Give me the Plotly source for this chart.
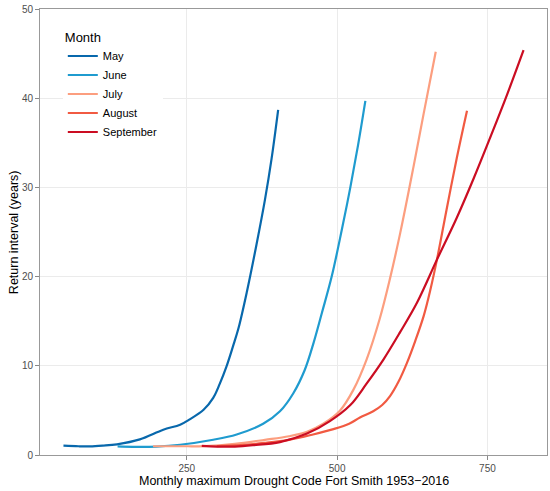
import plotly.graph_objects as go

# Values (drought code vs return interval)
months = ["May", "June", "July", "August", "September"]
colors = ["#0868ac", "#1f9bcf", "#fc9e7f", "#f15a42", "#cb0d22"]

may_dc = [45, 70, 89, 110, 134, 172, 211, 239, 255, 278, 294, 305, 316, 327, 336, 350, 366, 380, 391, 402]
may_rt = [1.04, 0.98, 0.97, 1.05, 1.2, 1.75, 2.84, 3.4, 4.0, 5.07, 6.4, 8.0, 9.9, 12.2, 14.2, 18.3, 23.6, 28.6, 33.2, 38.7]

june_dc = [135, 160, 200, 239, 294, 333, 377, 405, 427, 446, 461, 475, 491, 508, 522, 535, 547]
june_rt = [0.96, 0.92, 0.95, 1.15, 1.71, 2.3, 3.5, 4.9, 6.9, 9.5, 12.6, 16.0, 20.0, 25.3, 30.0, 34.8, 39.7]

july_dc = [194, 240, 280, 330, 380, 420, 450, 477, 505, 527, 549, 571, 588, 605, 627, 644, 664]
july_rt = [0.98, 0.98, 1.0, 1.25, 1.7, 2.1, 2.6, 3.5, 5.0, 7.3, 10.7, 15.3, 19.8, 24.9, 32.3, 38.3, 45.2]

aug_dc = [300, 340, 380, 420, 460, 494, 520, 538, 560, 575, 588, 602, 616, 630, 644, 655, 666, 682, 699, 716]
aug_rt = [1.0, 1.1, 1.35, 1.7, 2.3, 2.9, 3.5, 4.2, 4.9, 5.6, 6.6, 8.2, 10.3, 12.8, 15.6, 18.5, 21.9, 27.5, 33.3, 38.6]

sep_dc = [275, 300, 330, 360, 405, 450, 488, 522, 549, 577, 605, 633, 666, 699, 727, 754, 782, 810]
sep_rt = [1.02, 0.95, 0.95, 1.1, 1.45, 2.4, 3.8, 5.6, 8.0, 10.7, 13.8, 17.1, 21.9, 26.6, 31.0, 35.5, 40.3, 45.4]

series = [
    (may_dc, may_rt),
    (june_dc, june_rt),
    (july_dc, july_rt),
    (aug_dc, aug_rt),
    (sep_dc, sep_rt),
]

font_family = "Liberation Sans, Arial, sans-serif"

fig = go.Figure()
for name, color, (dc, rt) in zip(months, colors, series):
    fig.add_trace(
        go.Scatter(
            x=dc,
            y=rt,
            mode="lines",
            name=name,
            line=dict(color=color, width=2.2, shape="spline", smoothing=1.0),
        )
    )

axis_style = dict(
    automargin=False,
    showgrid=True,
    gridcolor="#ebebeb",
    gridwidth=1,
    zeroline=False,
    showline=True,
    mirror=True,
    linecolor="#999999",
    linewidth=1,
    ticks="outside",
    ticklen=4,
    tickcolor="#888888",
    tickfont=dict(size=10, color="#4d4d4d", family=font_family),
)

fig.update_xaxes(**axis_style, range=[6, 849], tickvals=[250, 500, 750])
fig.update_yaxes(**axis_style, range=[0, 50], tickvals=[0, 10, 20, 30, 40, 50])

# axis titles as annotations so they sit where ggplot put them
title_font = dict(size=12.5, color="black", family=font_family)
fig.add_annotation(
    text="Monthly maximum Drought Code Fort Smith 1953\u22122016",
    xref="paper", yref="paper", x=0.5, y=-0.059,
    xanchor="center", yanchor="middle", showarrow=False, font=title_font,
)
fig.add_annotation(
    text="Return interval (years)",
    xref="paper", yref="paper", x=-0.051, y=0.5, textangle=-90,
    xanchor="center", yanchor="middle", showarrow=False, font=title_font,
)

fig.update_layout(
    width=550,
    height=491,
    margin=dict(l=40, r=3, t=9, b=36),
    plot_bgcolor="white",
    paper_bgcolor="white",
    font=dict(family=font_family),
    showlegend=True,
    legend=dict(
        title=dict(text="Month", font=dict(size=13, color="black")),
        font=dict(size=11, color="black"),
        x=0.045,
        y=0.965,
        xanchor="left",
        yanchor="top",
        bgcolor="white",
        itemwidth=30,
        tracegroupgap=0,
    ),
)

fig.write_html(
    "out.html",
    config={"displayModeBar": False},
    post_script="document.body.style.margin='0';",
)
